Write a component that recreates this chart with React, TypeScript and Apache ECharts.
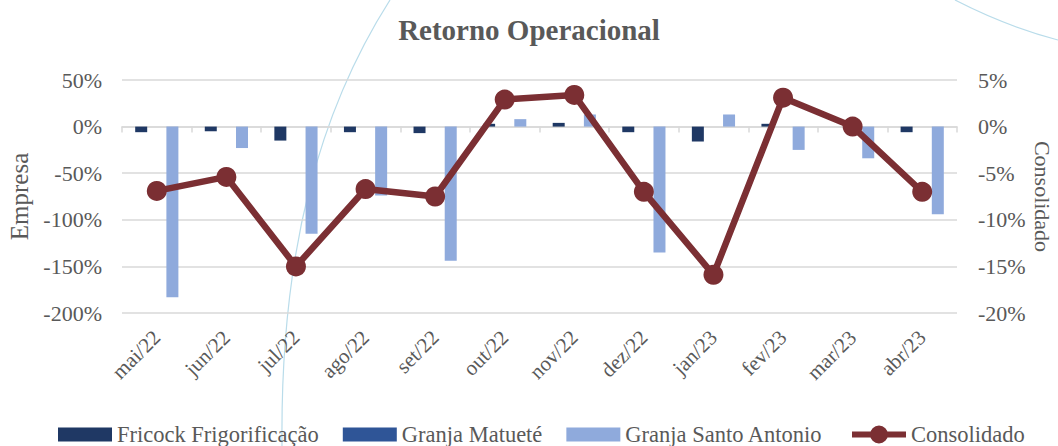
import React, { useEffect, useRef } from "react";
import * as echarts from "echarts";

const categories = ["mai/22", "jun/22", "jul/22", "ago/22", "set/22", "out/22", "nov/22", "dez/22", "jan/23", "fev/23", "mar/23", "abr/23"];
const fricock = [-6, -5, -15, -6, -7, 3, 4, -6, -16, 3, 0, -6];
const matuete = [0, 0, 0, 0, 0, 0, 0, 0, 0, 0, 0, 0];
const santoAntonio = [-183, -23, -115, -74, -144, 8, 13, -135, 13, -25, -34, -94];
const consolidado = [-6.9, -5.4, -15.0, -6.7, -7.5, 2.9, 3.4, -7.0, -15.9, 3.1, 0.0, -7.0];

const FONT = "'Liberation Serif', 'Times New Roman', serif";
const GREY = "#595959";
const LINE_COLOR = "#7b2f33";
const legendText = { fontFamily: FONT, fontSize: 22.5, color: GREY };
const lineIcon =
  "path://M0,7L18.6,7L18.6,13L0,13Z M35.4,7L54,7L54,13L35.4,13Z M18,10A9,9,0,1,1,36,10A9,9,0,1,1,18,10Z";

export default function App() {
  const ref = useRef<HTMLDivElement>(null);
  useEffect(() => {
    if (!ref.current) return;
    const chart = echarts.init(ref.current, null, { renderer: "svg" });
    chart.setOption({
      animation: false,
      backgroundColor: "#ffffff",
      textStyle: { fontFamily: FONT },
      title: {
        text: "Retorno Operacional",
        left: "center",
        top: 10,
        textStyle: { fontFamily: FONT, fontSize: 29, fontWeight: "bold", color: GREY },
      },
      graphic: [
        {
          type: "bezierCurve",
          z: -10,
          silent: true,
          shape: { x1: 390, y1: 0, cpx1: 320, cpy1: 110, cpx2: 280, cpy2: 250, x2: 282, y2: 446 },
          style: { stroke: "#b9dcea", lineWidth: 1.2, fill: null },
        },
        {
          type: "bezierCurve",
          z: -10,
          silent: true,
          shape: { x1: 955, y1: 0, cpx1: 990, cpx2: 1020, cpy1: 18, cpy2: 30, x2: 1058, y2: 40 },
          style: { stroke: "#b9dcea", lineWidth: 1.2, fill: null },
        },
      ],
      grid: { left: 122, right: 101, top: 80, bottom: 133, containLabel: false, outerBoundsMode: "none" },
      legend: [
        {
          top: 418,
          left: 53,
          itemWidth: 54,
          itemHeight: 14,
          itemGap: 24,
          textStyle: legendText,
          data: [
            { name: "Fricock Frigorificação", icon: "rect", textStyle: legendText },
            { name: "Granja Matueté", icon: "rect", textStyle: legendText },
            { name: "Granja Santo Antonio", icon: "rect", textStyle: legendText },
          ],
        },
        {
          top: 418,
          left: 847,
          itemWidth: 54,
          itemHeight: 20,
          itemGap: 24,
          textStyle: legendText,
          data: [{ name: "Consolidado", icon: lineIcon, textStyle: legendText }],
        },
      ],
      xAxis: [
        {
          type: "category",
          data: categories,
          position: "bottom",
          axisLine: { show: false, onZero: false },
          axisTick: { show: false },
          axisLabel: {
            rotate: 45,
            margin: 21,
            fontFamily: FONT,
            fontSize: 21,
            color: GREY,
            interval: 0,
          },
        },
        {
          type: "category",
          data: categories,
          position: "bottom",
          axisLine: { show: true, onZero: true, lineStyle: { color: "#d9d9d9", width: 1.5 } },
          axisTick: { show: true, length: 6, lineStyle: { color: "#d9d9d9", width: 1.5 } },
          axisLabel: { show: false },
        },
      ],
      yAxis: [
        {
          type: "value",
          min: -200,
          max: 50,
          interval: 50,
          name: "Empresa",
          nameLocation: "middle",
          nameGap: 90,
          nameMoveOverlap: false,
          nameTextStyle: { fontFamily: FONT, fontSize: 25, color: GREY },
          axisLine: { show: false },
          axisTick: { show: false },
          axisLabel: { formatter: "{value}%", fontFamily: FONT, fontSize: 22, color: GREY, margin: 20 },
          splitLine: { lineStyle: { color: "#d9d9d9", width: 1.5 } },
        },
        {
          type: "value",
          min: -20,
          max: 5,
          interval: 5,
          name: "Consolidado",
          nameLocation: "middle",
          nameGap: 74,
          nameMoveOverlap: false,
          nameRotate: -90,
          nameTextStyle: { fontFamily: FONT, fontSize: 22, color: GREY },
          axisLine: { show: false },
          axisTick: { show: false },
          axisLabel: { formatter: "{value}%", fontFamily: FONT, fontSize: 22, color: GREY, margin: 21 },
          splitLine: { show: false },
        },
      ],
      series: [
        {
          name: "Fricock Frigorificação",
          type: "bar",
          data: fricock,
          barWidth: 12,
          barGap: "30%",
          itemStyle: { color: "#1f3864" },
        },
        {
          name: "Granja Matueté",
          type: "bar",
          data: matuete,
          barWidth: 12,
          barGap: "30%",
          itemStyle: { color: "#2f5597" },
        },
        {
          name: "Granja Santo Antonio",
          type: "bar",
          data: santoAntonio,
          barWidth: 12,
          barGap: "30%",
          itemStyle: { color: "#8faadc" },
        },
        {
          name: "Consolidado",
          type: "line",
          yAxisIndex: 1,
          data: consolidado,
          symbol: "circle",
          symbolSize: 20,
          lineStyle: { color: LINE_COLOR, width: 6.5 },
          itemStyle: { color: LINE_COLOR },
          z: 5,
        },
      ],
    });
    return () => chart.dispose();
  }, []);
  return <div ref={ref} style={{ position: "fixed", left: 0, top: 0, width: 1058, height: 446 }} />;
}
